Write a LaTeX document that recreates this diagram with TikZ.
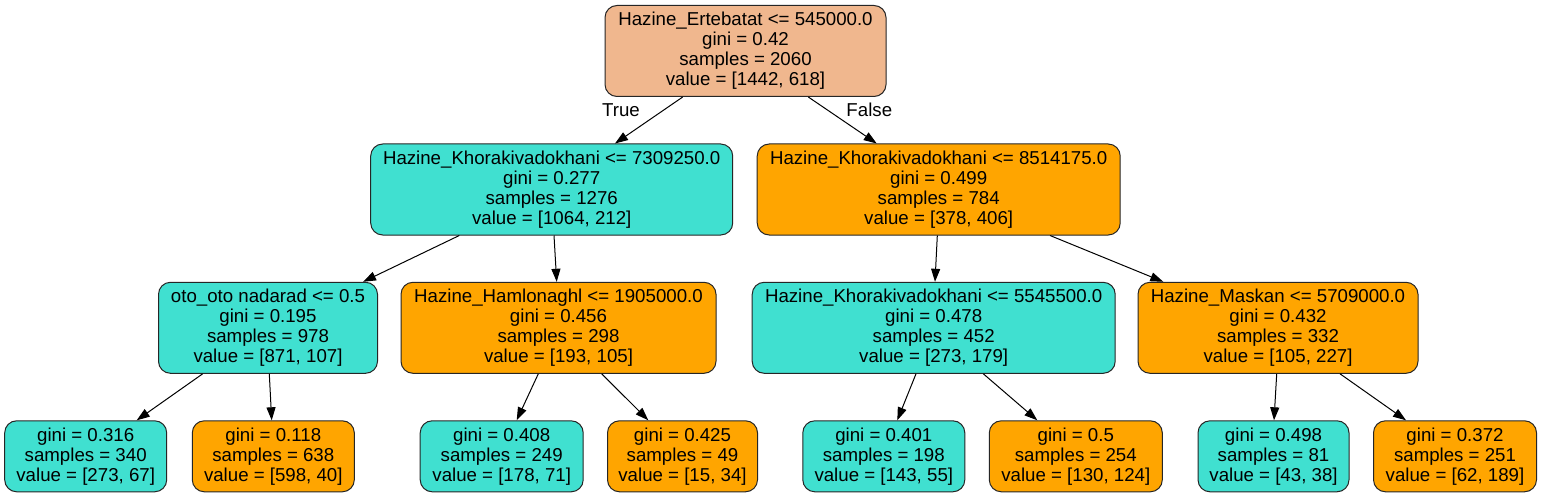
\documentclass[tikz,border=0pt]{standalone}
\usepackage{fontspec}
\setmainfont{Liberation Sans}
\usetikzlibrary{arrows.meta}
\definecolor{salmon}{RGB}{240,183,142}
\definecolor{turq}{RGB}{64,224,208}
\definecolor{orng}{RGB}{255,165,0}
\tikzset{
  tnode/.style={draw=black!85, line width=1pt, rounded corners=12pt, align=center,
    font=\fontsize{18.67}{20}\selectfont, inner sep=0pt,
    execute at begin node={\rule{0pt}{17pt}}},
  inner/.style={tnode, minimum height=91pt},
  leaf/.style={tnode, minimum height=71pt},
  edge/.style={line width=1pt, -{Triangle[length=13pt,width=9pt]}},
  elabel/.style={font=\fontsize{18.67}{20}\selectfont}
}
\begin{document}
\begin{tikzpicture}[x=1pt,y=-1pt]
\useasboundingbox (0,0) rectangle (1541,497);
\fill[white] (0,0) rectangle (1541,497);

\node[inner, fill=salmon, minimum width=281pt] (root) at (745.5,51) {Hazine\_Ertebatat <= 545000.0\\gini = 0.42\\samples = 2060\\value = [1442, 618]};

\node[inner, fill=turq, minimum width=362pt] (l) at (551.7,189.5) {Hazine\_Khorakivadokhani <= 7309250.0\\gini = 0.277\\samples = 1276\\value = [1064, 212]};
\node[inner, fill=orng, minimum width=363pt] (r) at (938.7,189.5) {Hazine\_Khorakivadokhani <= 8514175.0\\gini = 0.499\\samples = 784\\value = [378, 406]};

\node[inner, fill=turq, minimum width=219pt] (a) at (268,327.8) {oto\_oto nadarad <= 0.5\\gini = 0.195\\samples = 978\\value = [871, 107]};
\node[inner, fill=orng, minimum width=315pt] (b) at (558.5,327.8) {Hazine\_Hamlonaghl <= 1905000.0\\gini = 0.456\\samples = 298\\value = [193, 105]};
\node[inner, fill=turq, minimum width=363pt] (c) at (933.7,327.8) {Hazine\_Khorakivadokhani <= 5545500.0\\gini = 0.478\\samples = 452\\value = [273, 179]};
\node[inner, fill=orng, minimum width=280pt] (d) at (1278,327.8) {Hazine\_Maskan <= 5709000.0\\gini = 0.432\\samples = 332\\value = [105, 227]};

\node[leaf, fill=turq, minimum width=162pt] (f1) at (85.7,456.3) {gini = 0.316\\samples = 340\\value = [273, 67]};
\node[leaf, fill=orng, minimum width=162pt] (f2) at (273.3,456.3) {gini = 0.118\\samples = 638\\value = [598, 40]};
\node[leaf, fill=turq, minimum width=163pt] (f3) at (501.7,456.3) {gini = 0.408\\samples = 249\\value = [178, 71]};
\node[leaf, fill=orng, minimum width=150pt] (f4) at (682.5,456.3) {gini = 0.425\\samples = 49\\value = [15, 34]};
\node[leaf, fill=turq, minimum width=162pt] (f5) at (883.8,456.3) {gini = 0.401\\samples = 198\\value = [143, 55]};
\node[leaf, fill=orng, minimum width=173pt] (f6) at (1075.8,456.3) {gini = 0.5\\samples = 254\\value = [130, 124]};
\node[leaf, fill=turq, minimum width=151pt] (f7) at (1273.5,456.3) {gini = 0.498\\samples = 81\\value = [43, 38]};
\node[leaf, fill=orng, minimum width=163pt] (f8) at (1455,456.3) {gini = 0.372\\samples = 251\\value = [62, 189]};

\draw[edge] ([xshift=-62.8pt]root.south) -- ([xshift=63.3pt]l.north);
\draw[edge] ([xshift=62.8pt]root.south) -- ([xshift=-62pt]r.north);
\node[elabel] (tl) at (621,110) {True};
\node[elabel] (fl) at (869.3,110) {False};

\draw[edge] ([xshift=-92.4pt]l.south) -- ([xshift=95pt]a.north);
\draw[edge] ([xshift=2.3pt]l.south) -- ([xshift=-1.8pt]b.north);
\draw[edge] ([xshift=-1.4pt]r.south) -- ([xshift=1.3pt]c.north);
\draw[edge] ([xshift=111.3pt]r.south) -- ([xshift=-114.7pt]d.north);

\draw[edge] ([xshift=-65.3pt]a.south) -- ([xshift=51pt]f1.north);
\draw[edge] ([xshift=1.3pt]a.south) -- ([xshift=-1.6pt]f2.north);
\draw[edge] ([xshift=-20.2pt]b.south) -- ([xshift=15pt]f3.north);
\draw[edge] ([xshift=43.2pt]b.south) -- ([xshift=-34.2pt]f4.north);
\draw[edge] ([xshift=-17.7pt]c.south) -- ([xshift=13.5pt]f5.north);
\draw[edge] ([xshift=49.6pt]c.south) -- ([xshift=-38.5pt]f6.north);
\draw[edge] ([xshift=-1.3pt]d.south) -- ([xshift=0.5pt]f7.north);
\draw[edge] ([xshift=62pt]d.south) -- ([xshift=-49pt]f8.north);
\end{tikzpicture}
\end{document}
